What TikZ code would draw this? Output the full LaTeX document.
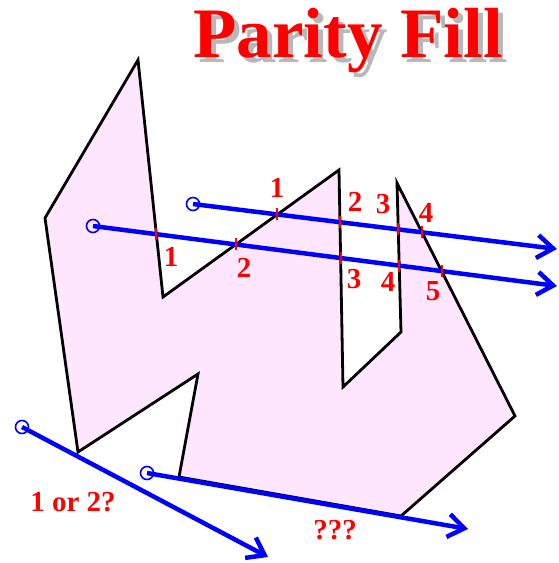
\documentclass[tikz,border=0pt]{standalone}
\usepackage{fontspec}
\setmainfont{Liberation Serif}
\usetikzlibrary{arrows.meta,intersections}
\definecolor{polyfill}{RGB}{255,230,255}
\definecolor{rayblue}{RGB}{0,0,255}
\definecolor{labred}{RGB}{255,0,0}
\tikzset{
  polystyle/.style={draw=black,line width=2.8pt,fill=polyfill,line join=miter},
  raystyle/.style={draw=rayblue,line width=4.5pt,-{Straight Barb[length=16pt,width=23pt]}},
  startcirc/.style={circle,draw=rayblue,line width=1.6pt,minimum size=13pt,inner sep=0pt},
  tickstyle/.style={draw=labred,line width=2pt},
  numlab/.style={text=labred,font=\fontsize{29}{29}\selectfont\bfseries,inner sep=0pt},
  titlestyle/.style={font=\fontsize{71}{71}\selectfont\bfseries,inner sep=0pt,anchor=base}
}
\begin{document}
\begin{tikzpicture}[x=1pt,y=-1pt]
\useasboundingbox (0,0) rectangle (558,563);
% title with shadow
\node[titlestyle,text=black,opacity=0.28] (titleshadow) at (353,62) {Parity Fill};
\node[titlestyle,text=labred] (title) at (348,57) {Parity Fill};
% polygon vertices
\coordinate (v1) at (45,218);
\coordinate (v2) at (138,60);
\coordinate (v3) at (163,297);
\coordinate (v4) at (339,170);
\coordinate (v5) at (343,387);
\coordinate (v6) at (401,332);
\coordinate (v7) at (397,183);
\coordinate (v8) at (515,416);
\coordinate (v9) at (401,516);
\coordinate (v10) at (179,477);
\coordinate (v11) at (198,374);
\coordinate (v12) at (78,452);
\path[polystyle,name path=poly] (v1) -- (v2) -- (v3) -- (v4) -- (v5) -- (v6) -- (v7) -- (v8) -- (v9) -- (v10) -- (v11) -- (v12) -- cycle;
% ray start circles and ends
\node[startcirc] (s1) at (193,204) {};
\node[startcirc] (s2) at (93,226) {};
\node[startcirc] (s3) at (22,427) {};
\node[startcirc] (s4) at (147,473) {};
\coordinate (e1) at (557,249);
\coordinate (e2) at (557,286);
\coordinate (e3) at (268,557);
\coordinate (e4) at (468,529);
\path[name path=r1] (s1.center) -- (e1);
\path[name path=r2] (s2.center) -- (e2);
\draw[raystyle] (s1.center) -- (e1);
\draw[raystyle] (s2.center) -- (e2);
\draw[raystyle] (s3.center) -- (e3);
\draw[raystyle] (s4.center) -- (e4);
% ticks
\path[name intersections={of=poly and r1,name=a,sort by=r1}];
\path[name intersections={of=poly and r2,name=b,sort by=r2}];
\foreach \i in {1,...,4}{\draw[tickstyle] ([yshift=-6pt]a-\i) -- ([yshift=6pt]a-\i);}
\foreach \i in {1,...,5}{\draw[tickstyle] ([yshift=-6pt]b-\i) -- ([yshift=6pt]b-\i);}
% labels upper ray
\node[numlab] (u1) at (277,188) {1};
\node[numlab] (u2) at (355,202) {2};
\node[numlab] (u3) at (383,204) {3};
\node[numlab] (u4) at (426,213) {4};
% labels lower ray
\node[numlab] (l1) at (171,257) {1};
\node[numlab] (l2) at (244,268) {2};
\node[numlab] (l3) at (354,279) {3};
\node[numlab] (l4) at (388,282) {4};
\node[numlab] (l5) at (433,291) {5};
% question labels
\node[numlab] (q1) at (73,502) {1 or 2?};
\node[numlab] (q2) at (335,530) {???};
\end{tikzpicture}
\end{document}
